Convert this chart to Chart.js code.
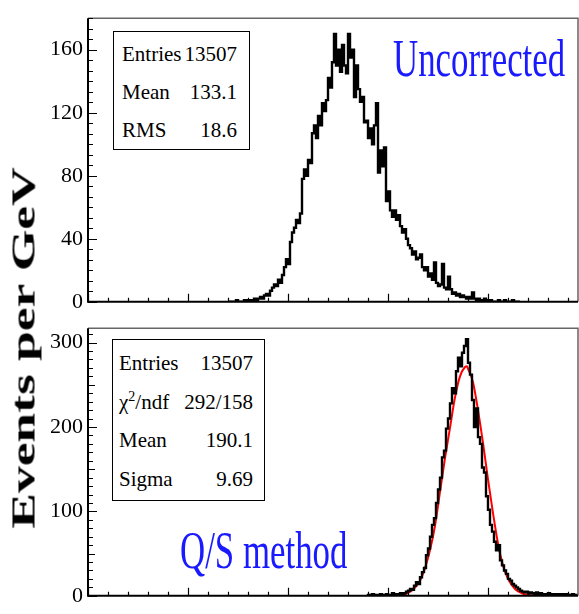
<!DOCTYPE html>
<html>
<head>
<meta charset="utf-8">
<script src="https://cdn.jsdelivr.net/npm/chart.js@4.4.0/dist/chart.umd.min.js"></script>
<style>
  body { margin: 0; background: #fff; width: 579px; height: 614px; overflow: hidden; position: relative; font-family: "Liberation Serif", serif; }
  canvas { position: absolute; left: 0; }
  #top { top: 0; }
  #bottom { top: 310px; }
  .stat { position: absolute; box-sizing: border-box; border: 1.5px solid #000; background: #fff; font-size: 21px; color: #000; }
  .row { display: flex; justify-content: space-between; white-space: nowrap; }
  .blue { position: absolute; color: #1a1aff; font-size: 52px; line-height: 1; white-space: nowrap; transform-origin: 0 0; transform: scaleX(0.67); }
  #ylab { position: absolute; left: 24px; top: 348px; font-size: 33px; font-weight: bold; line-height: 1; white-space: nowrap;
          transform: translate(-50%, -50%) rotate(-90deg) scaleX(1.62); }
</style>
</head>
<body>
<canvas id="top" width="579" height="320"></canvas>
<canvas id="bottom" width="579" height="304"></canvas>

<div id="ylab">Events per GeV</div>

<div class="stat" style="left:113px;top:31px;width:137px;height:119px;padding:3px 12px 0 8px;line-height:38px">
  <div class="row"><span>Entries</span><span>13507</span></div>
  <div class="row"><span>Mean</span><span>133.1</span></div>
  <div class="row"><span>RMS</span><span>18.6</span></div>
</div>
<div class="blue" style="left:393px;top:33px">Uncorrected</div>

<div class="stat" style="left:112px;top:339px;width:153px;height:162px;padding:4px 11px 0 6px;line-height:38.7px">
  <div class="row"><span>Entries</span><span>13507</span></div>
  <div class="row"><span>&chi;<sup style="font-size:14px;line-height:0">2</sup>/ndf</span><span>292/158</span></div>
  <div class="row"><span>Mean</span><span>190.1</span></div>
  <div class="row"><span>Sigma</span><span>9.69</span></div>
</div>
<div class="blue" style="left:180px;top:525px">Q/S method</div>

<script>
// uncorrected histogram, 1 GeV bins starting at topStart
const topStart = 70;
const topCounts = [
  0,0,0,0,0,1,0,0,0,1,
  0,1,1,0,2,1,2,3,2,4,
  5,4,7,9,11,10,14,12,17,22,
  27,24,38,44,47,52,50,56,78,84,
  80,90,88,107,112,104,118,112,126,121,
  128,142,136,152,170,150,160,146,163,150,
  145,170,155,160,130,150,135,127,130,114,
  115,104,110,100,112,126,82,96,86,98,
  64,70,58,54,58,52,55,48,44,46,
  40,36,34,30,32,27,28,30,22,20,
  22,16,18,14,25,12,10,11,24,9,
  8,16,8,5,6,4,5,3,4,3,
  2,3,2,6,2,1,2,1,1,2,
  1,0,1,0,0,0,1,0,0,1,
  0,0,0,1,0,0
];

// Q/S corrected histogram
const botStart = 140;
const botCounts = [
  0,1,0,2,1,0,1,2,1,0,
  2,1,1,3,2,1,2,3,2,3,
  5,6,8,7,12,16,14,22,28,33,
  48,56,70,84,92,110,126,140,164,172,
  198,210,228,246,240,266,282,272,288,296,
  304,276,262,232,200,222,188,180,152,146,
  118,102,84,76,64,54,60,42,36,30,
  26,20,18,14,12,10,8,6,5,4,
  5,3,4,3,2,4,2,3,2,1,
  2,3,1,2,1,2,2,1,2,1,2,1,1,2,1
];

// gaussian fit curve
const fitX = [147, 152, 156, 159.5, 162.5, 166, 168.5, 171, 173.5, 176, 178.5, 181, 183.5, 186, 188.5, 189.5, 190, 192.5, 195, 197.5, 200, 202.5, 205, 207.5, 210, 213.5, 217, 220, 224, 227];
const fitY = [0, 0.5, 1, 3, 7, 18, 33, 54, 83, 123, 163, 199, 235, 260, 271, 272, 269, 253, 220, 181, 138, 98, 62, 36, 20, 8, 3, 1, 0.3, 0];

const xMax = 245;
const topYMax = 180, botYMax = 317;
const topYTicks = [0, 40, 80, 120, 160];
const botYTicks = [0, 100, 200, 300];

function histPoints(start, counts) {
  const pts = counts.map((c, i) => ({ x: start + i, y: c }));
  pts.push({ x: start + counts.length, y: counts[counts.length - 1] });
  return pts;
}

// ROOT-like frame: ticks drawn inside the frame
const rootFrame = {
  id: 'rootFrame',
  afterDraw(chart, args, opts) {
    const { ctx, chartArea: a, scales: { x, y } } = chart;
    ctx.save();
    ctx.strokeStyle = '#666';
    ctx.lineWidth = 1.5;
    ctx.beginPath();
    ctx.moveTo(a.left, a.top); ctx.lineTo(a.right, a.top); ctx.lineTo(a.right, a.bottom);
    ctx.stroke();

    ctx.strokeStyle = '#000';
    ctx.lineWidth = 2;
    ctx.beginPath();
    ctx.moveTo(a.left, a.top); ctx.lineTo(a.left, a.bottom); ctx.lineTo(a.right, a.bottom);
    ctx.stroke();

    ctx.lineWidth = 1.2;
    ctx.beginPath();
    for (let k = 0; k * opts.yMinor <= y.max; k++) {
      const py = Math.round(y.getPixelForValue(k * opts.yMinor)) + 0.5;
      let len = 5;
      if (k % opts.yDiv === 0) len = 9;
      else if (opts.yHalf && k % opts.yHalf === 0) len = 7;
      ctx.moveTo(a.left, py); ctx.lineTo(a.left + len, py);
    }
    for (let v = 0; v <= x.max; v += 10) {
      const px = Math.round(x.getPixelForValue(v)) + 0.5;
      const len = v % 50 === 0 ? 8 : 4;
      ctx.moveTo(px, a.bottom); ctx.lineTo(px, a.bottom - len);
    }
    ctx.stroke();
    ctx.restore();
  }
};

Chart.defaults.font.family = '"Liberation Serif", serif';

function yScale(max, ticks) {
  return {
    min: 0, max: max,
    afterFit(s) { s.width = 88; },
    afterBuildTicks(s) { s.ticks = ticks.map(v => ({ value: v })); },
    ticks: { padding: 5, color: '#000', font: { size: 22 } },
    grid: { display: false, drawTicks: false },
    border: { display: false }
  };
}

new Chart(document.getElementById('top'), {
  type: 'line',
  data: {
    datasets: [{
      data: histPoints(topStart, topCounts),
      stepped: 'after',
      borderColor: '#000',
      borderWidth: 2.4,
      pointRadius: 0
    }]
  },
  options: {
    responsive: false,
    animation: false,
    layout: { padding: { top: 12, right: 1, bottom: 16, left: 0 } },
    plugins: { legend: { display: false }, tooltip: { enabled: false }, rootFrame: { yMinor: 40 / 6, yDiv: 6 } },
    scales: {
      x: { type: 'linear', min: 0, max: xMax, display: false },
      y: yScale(topYMax, topYTicks)
    }
  },
  plugins: [rootFrame]
});

new Chart(document.getElementById('bottom'), {
  type: 'line',
  data: {
    datasets: [
      {
        data: histPoints(botStart, botCounts),
        stepped: 'after',
        borderColor: '#000',
        borderWidth: 2.4,
        pointRadius: 0
      },
      {
        data: fitX.map((v, i) => ({ x: v, y: fitY[i] })),
        borderColor: '#ff0000',
        borderWidth: 2,
        pointRadius: 0,
        cubicInterpolationMode: 'monotone'
      }
    ]
  },
  options: {
    responsive: false,
    animation: false,
    layout: { padding: { top: 7, right: 1, bottom: 4, left: 0 } },
    plugins: { legend: { display: false }, tooltip: { enabled: false }, rootFrame: { yMinor: 10, yDiv: 10, yHalf: 5 } },
    scales: {
      x: { type: 'linear', min: 0, max: xMax, display: false },
      y: yScale(botYMax, botYTicks)
    }
  },
  plugins: [rootFrame]
});
</script>
</body>
</html>
